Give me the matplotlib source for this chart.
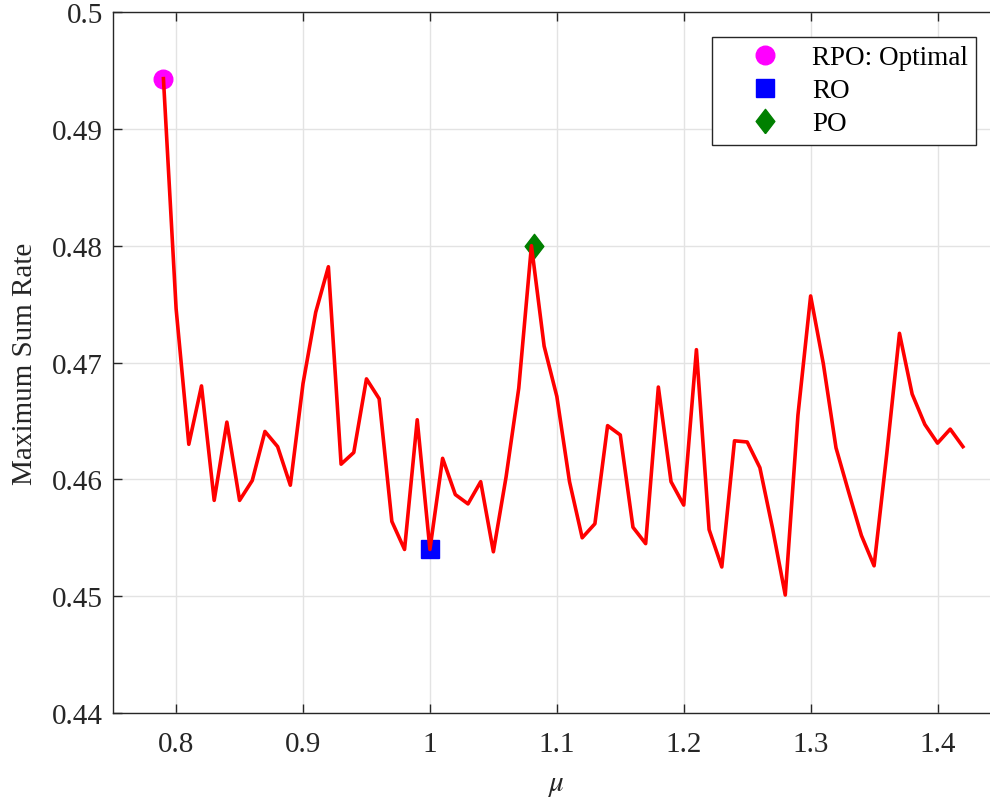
import numpy as np
import matplotlib
matplotlib.use("Agg")
import matplotlib.pyplot as plt

plt.rcParams['font.family'] = ['Liberation Serif', 'DejaVu Serif']
plt.rcParams['mathtext.fontset'] = 'stix'

# suma de tasas máxima para cada valor de mu
mu = np.round(np.arange(0.79, 1.4201, 0.01), 2)
tasa = [0.4943, 0.4746, 0.4630, 0.4680, 0.4582, 0.4649, 0.4582, 0.4599,
        0.4641, 0.4628, 0.4595, 0.4682, 0.4743, 0.4782, 0.4613, 0.4623,
        0.4686, 0.4669, 0.4564, 0.4540, 0.4651, 0.4540, 0.4618, 0.4587,
        0.4579, 0.4598, 0.4538, 0.4602, 0.4678, 0.4800, 0.4714, 0.4671,
        0.4598, 0.4550, 0.4562, 0.4646, 0.4638, 0.4559, 0.4545, 0.4679,
        0.4598, 0.4578, 0.4711, 0.4557, 0.4525, 0.4633, 0.4632, 0.4610,
        0.4558, 0.4501, 0.4655, 0.4757, 0.4699, 0.4627, 0.4589, 0.4552,
        0.4526, 0.4622, 0.4725, 0.4673, 0.4647, 0.4631, 0.4643, 0.4628]

# puntos destacados
rpo = (0.79, 0.4943)
ro = (1.00, 0.4540)
po = (1.082, 0.4800)

rombo = [(0, -1), (0.77, 0), (0, 1), (-0.77, 0), (0, -1)]

fig = plt.figure(figsize=(9.9, 8.04), dpi=100)
ax = fig.add_axes([0.1138, 0.1119, 0.8973, 0.8719])

ax.plot(mu, tasa, color='red', linewidth=2.6, zorder=5)
ax.plot(*rpo, 'o', color='magenta', markersize=13.4, linestyle='none',
        label='RPO: Optimal', zorder=3)
ax.plot(*ro, 's', color='blue', markersize=12.5, linestyle='none',
        label='RO', zorder=3)
ax.plot(*po, marker=rombo, color='green', markersize=17.5, linestyle='none',
        label='PO', zorder=3)

ax.set_xlim(0.75, 1.45)
ax.set_ylim(0.44, 0.5)
ax.set_xticks([0.8, 0.9, 1.0, 1.1, 1.2, 1.3, 1.4])
ax.set_xticklabels(['0.8', '0.9', '1', '1.1', '1.2', '1.3', '1.4'])
ax.set_yticks([0.44, 0.45, 0.46, 0.47, 0.48, 0.49, 0.5])
ax.set_yticklabels(['0.44', '0.45', '0.46', '0.47', '0.48', '0.49', '0.5'])

ax.grid(True, color='#e3e3e3', linewidth=1.0)
ax.set_axisbelow(True)
for s in ax.spines.values():
    s.set_color('#262626')
    s.set_linewidth(1.0)
ax.tick_params(direction='in', length=6.5, width=1.0, color='#262626',
               labelsize=21, labelcolor='#262626', top=True, right=True)
ax.tick_params(axis='x', pad=13)
ax.tick_params(axis='y', pad=7)

ax.set_xlabel(r'$\mu$', fontsize=21, color='#262626', labelpad=11)
ax.set_ylabel('Maximum Sum Rate', fontsize=21, color='#262626', labelpad=10)

leg = ax.legend(loc='upper right', bbox_to_anchor=(976 / 990, 766 / 804),
                bbox_transform=fig.transFigure, borderaxespad=0,
                fontsize=19.5, fancybox=False, framealpha=1,
                edgecolor='#262626', borderpad=0.3, handlelength=3.3,
                handletextpad=0.1, labelspacing=0.3)
leg.get_frame().set_linewidth(1.0)

fig.savefig('out.png', dpi=100)
